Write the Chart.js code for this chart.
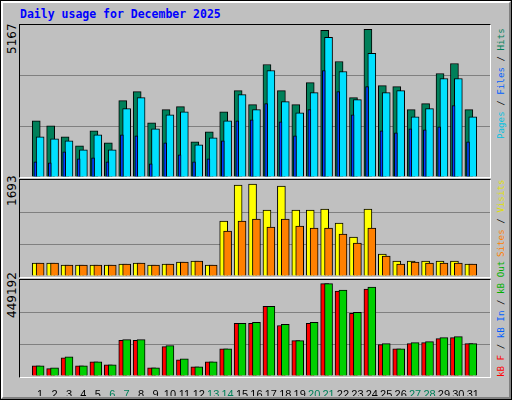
<!DOCTYPE html>
<html>
<head>
<meta charset="utf-8">
<script src="https://cdn.jsdelivr.net/npm/chart.js@4"></script>
<style>
  body { margin: 0; background: #c0c0c0; }
  #frame { position: absolute; left: 0; top: 0; width: 512px; height: 400px; box-sizing: border-box;
           border: 1px solid #000; background: #c0c0c0; }
  #bevel { position: absolute; left: 0; top: 0; width: 506px; height: 394px;
           border-top: 2px solid #fff; border-left: 2px solid #fff;
           border-right: 2px solid #808080; border-bottom: 2px solid #808080; }
  .panel { position: absolute; left: 19px; width: 470px; box-sizing: content-box;
           border-left: 1px solid #000; border-top: 1px solid #000;
           border-right: 1px solid #fff; border-bottom: 1px solid #fff; }
  canvas { position: absolute; }
  .title { position: absolute; left: 20px; top: 7px; font: bold 11.5px "DejaVu Sans Mono", monospace; color: #0000ff; }
  .vlab { position: absolute; transform-origin: 0 0; transform: rotate(-90deg); white-space: nowrap; }
  .maxlab { font: 12px "DejaVu Sans", sans-serif; color: #000; }
  .legend { font: 9.2px "DejaVu Sans Mono", monospace; }
</style>
</head>
<body>
<div id="frame"><div id="bevel"></div></div>
<div class="title">Daily usage for December 2025</div>
<div class="panel" style="top:24px;height:152px"></div>
<div class="panel" style="top:179px;height:97px"></div>
<div class="panel" style="top:279px;height:97px"></div>
<canvas id="c1" style="left:20px;top:25px"></canvas>
<canvas id="c2" style="left:20px;top:180px"></canvas>
<canvas id="c3" style="left:20px;top:280px"></canvas>

<div class="vlab maxlab" style="left:5px;top:54px">5167</div>
<div class="vlab maxlab" style="left:5px;top:206px">1693</div>
<div class="vlab maxlab" style="left:5px;top:318px">449192</div>

<div class="vlab legend" style="left:495px;top:139px"><span style="color:#00c0e0">Pages</span> / <span style="color:#0060ff">Files</span> / <span style="color:#00805a">Hits</span></div>
<div class="vlab legend" style="left:495px;top:257px"><span style="color:#ff8000">Sites</span> / <span style="color:#e0e000">Visits</span></div>
<div class="vlab legend" style="left:495px;top:377px"><span style="color:#ff0000">kB F</span> / <span style="color:#0060ff">kB In</span> / <span style="color:#00b000">kB Out</span></div>

<script>
const days = Array.from({ length: 31 }, (_, i) => i + 1);
const weekendDays = [6, 7, 13, 14, 20, 21, 27, 28];

const hits = [1969, 1793, 1406, 1090, 1617, 1195, 2672, 2989, 1899, 2356, 2461, 1231, 1582, 2285, 3024, 2532,
    3938, 3024, 2532, 3305, 5133, 4043, 2778, 5167, 3200, 3164, 2356, 2567, 3621, 3973, 2356];
const files = [1406, 1336, 1266, 949, 1477, 949, 2391, 2778, 1688, 2180, 2285, 1125, 1371, 1969, 2883, 2356,
    3727, 2637, 2250, 2953, 4887, 3692, 2707, 4325, 2953, 3024, 2110, 2391, 3446, 3446, 2110];
const pages = [527, 492, 879, 633, 668, 527, 1477, 1442, 457, 1195, 774, 527, 633, 1266, 1969, 2004,
    2567, 1934, 1442, 2356, 3727, 2989, 2180, 3164, 1617, 1547, 1688, 1653, 1758, 2496, 1231];

const visits = [239, 239, 202, 202, 202, 202, 221, 239, 202, 221, 257, 276, 202, 1011, 1673, 1693,
    1214, 1655, 1214, 1214, 1232, 975, 717, 1232, 405, 276, 276, 276, 276, 276, 221];
const sites = [239, 239, 202, 202, 202, 202, 221, 239, 202, 221, 257, 276, 202, 828, 1011, 1048,
    901, 1048, 920, 883, 883, 772, 607, 883, 368, 221, 257, 239, 239, 239, 221];

const kbF = [49170, 36058, 88506, 49170, 68838, 54087, 173734, 173734, 39336, 142593, 78672, 44253, 68838, 132759, 255684, 255684,
    339273, 245850, 172095, 255684, 449192, 413028, 304854, 422862, 152427, 132759, 157344, 162261, 181929, 186846, 157344];
const kbOut = [49170, 39336, 93423, 49170, 68838, 54087, 177012, 177012, 39336, 147510, 83589, 44253, 68838, 132759, 255684, 260601,
    339273, 250767, 172095, 260601, 449192, 417945, 309771, 432696, 157344, 132759, 162261, 167178, 186846, 191763, 157344];

// webalizer draws the back bar a bit left of the day, the front bar on it
function pts(values, shift) {
    return values.map((v, i) => ({ x: days[i] + shift, y: v }));
}

function bars(label, values, shift, color, width, order) {
    return {
        label: label,
        data: pts(values, shift),
        backgroundColor: color,
        borderColor: '#000',
        borderWidth: 1,
        borderSkipped: 'bottom',
        barThickness: width,
        grouped: false,
        order: order
    };
}

function makePanel(id, height, yMax, datasets, showDays) {
    const el = document.getElementById(id);
    el.width = 470;
    el.height = height;
    el.style.width = '470px';
    el.style.height = height + 'px';
    return new Chart(el, {
        type: 'bar',
        data: { datasets: datasets },
        options: {
            responsive: false,
            animation: false,
            devicePixelRatio: 1,
            layout: { padding: 0 },
            plugins: { legend: { display: false }, tooltip: { enabled: false } },
            scales: {
                x: {
                    type: 'linear',
                    min: 0.13,
                    max: 31.67,
                    display: showDays,
                    grid: { display: false },
                    border: { display: false },
                    afterBuildTicks: (scale) => { scale.ticks = days.map(d => ({ value: d })); },
                    afterFit: (scale) => { scale.height = showDays ? 20 : 0; },
                    ticks: {
                        autoSkip: false,
                        maxRotation: 0,
                        padding: 4,
                        font: { family: 'Liberation Sans', size: 11 },
                        color: (ctx) => weekendDays.includes(ctx.tick.value) ? '#00805a' : '#000',
                        callback: (v) => String(v)
                    }
                },
                y: {
                    min: 0,
                    max: yMax,
                    display: true,
                    afterFit: (scale) => { scale.width = 0; },
                    ticks: { display: false, stepSize: yMax / 3 },
                    border: { display: false },
                    grid: {
                        drawTicks: false,
                        lineWidth: 1,
                        color: (ctx) => (ctx.index === 1 || ctx.index === 2) ? '#808080' : 'rgba(0,0,0,0)'
                    }
                }
            }
        }
    });
}

makePanel('c1', 152, 5320, [
    bars('Hits', hits, -0.27, '#00805a', 8, 3),
    bars('Files', files, 0, '#00e0ff', 8, 2),
    bars('Pages', pages, -0.33, '#0040ff', 3, 1)
], false);

makePanel('c2', 96, 1766, [
    bars('Visits', visits, -0.27, '#ffff00', 8, 2),
    bars('Sites', sites, 0, '#ff8000', 8, 1)
], false);

makePanel('c3', 116, 467000, [
    bars('kB F', kbF, -0.27, '#ff0000', 8, 2),
    bars('kB Out', kbOut, 0, '#00d000', 8, 1)
], true);
</script>
</body>
</html>
